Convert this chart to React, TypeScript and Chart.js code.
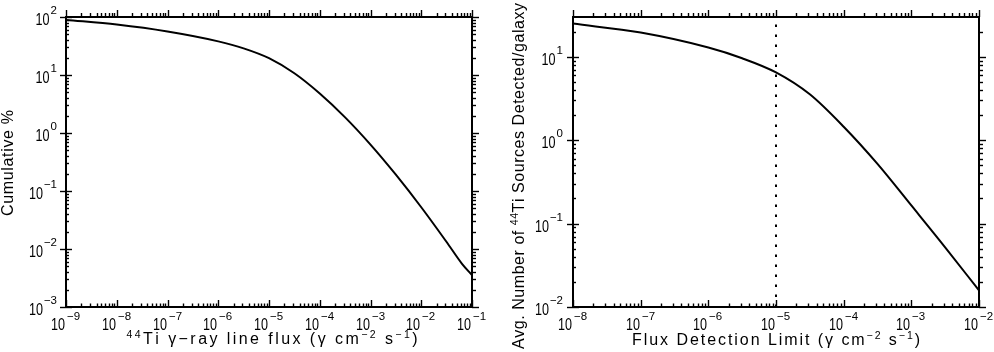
import React, { useEffect, useRef } from 'react';
import { Chart, registerables } from 'chart.js';
Chart.register(...registerables);

// ---------- data ----------
const leftFlux = [1e-9, 1e-8, 1e-7, 1e-6, 3.16e-6, 1e-5, 3.16e-5, 1e-4, 3.16e-4, 1e-3, 3.16e-3, 1e-2, 3.16e-2, 6.3e-2, 1e-1];
const leftCumulative = [89.1, 74.1, 56.2, 38.0, 28.8, 19.5, 10.7, 4.79, 1.86, 0.631, 0.191, 0.0525, 0.0132, 0.00562, 0.00355];
const leftXRange = [1e-9, 1e-1];
const leftYRange = [1e-3, 1e2];

const rightFlux = [1e-8, 1e-7, 1e-6, 3.16e-6, 1e-5, 3.16e-5, 1e-4, 3.16e-4, 1e-3, 3.16e-3, 1e-2];
const rightSources = [25, 19.5, 12.9, 9.6, 6.5, 3.55, 1.45, 0.52, 0.165, 0.052, 0.0158];
const rightXRange = [1e-8, 1e-2];
const rightYRange = [1e-2, 30];
const detectionLimit = [1e-5];

type Part = { t: string; sup?: boolean };
const leftXTitle: Part[] = [
  { t: '44', sup: true }, { t: 'Ti γ−ray line flux (γ cm' }, { t: '−2', sup: true }, { t: ' s' }, { t: '−1', sup: true }, { t: ')' },
];
const leftYTitle: Part[] = [{ t: 'Cumulative %' }];
const rightXTitle: Part[] = [
  { t: 'Flux Detection Limit (γ cm' }, { t: '−2', sup: true }, { t: ' s' }, { t: '−1', sup: true }, { t: ')' },
];
const rightYTitle: Part[] = [
  { t: 'Avg. Number of ' }, { t: '44', sup: true }, { t: 'Ti Sources Detected/galaxy' },
];

const FONT = '"Liberation Sans", Arial, sans-serif';

function measure(ctx: CanvasRenderingContext2D, text: string, size: number, sx: number) {
  ctx.save();
  ctx.font = `${size}px ${FONT}`;
  const w = ctx.measureText(text).width * sx;
  ctx.restore();
  return w;
}

function drawPlain(ctx: CanvasRenderingContext2D, text: string, x: number, y: number, size: number, sx: number, align: 'left' | 'right') {
  ctx.save();
  ctx.font = `${size}px ${FONT}`;
  const w = ctx.measureText(text).width * sx;
  ctx.translate(align === 'right' ? x - w : x, y);
  ctx.scale(sx, 1);
  ctx.textAlign = 'left';
  ctx.textBaseline = 'alphabetic';
  ctx.fillStyle = '#000';
  ctx.fillText(text, 0, 0);
  ctx.restore();
  return w;
}

function drawRich(ctx: CanvasRenderingContext2D, parts: Part[], x: number, y: number,
  o: { size: number; supSize: number; rise: number; sx: number; width: number }) {
  const gl: { ch: string; sup: boolean }[] = [];
  parts.forEach(p => { for (const ch of p.t) gl.push({ ch, sup: !!p.sup }); });
  const ws = gl.map(g => measure(ctx, g.ch, g.sup ? o.supSize : o.size, o.sx));
  const nat = ws.reduce((a, b) => a + b, 0);
  const extra = (o.width - nat) / (gl.length - 1);
  let cx = x - o.width / 2;
  gl.forEach((g, i) => {
    ctx.save();
    ctx.font = `${g.sup ? o.supSize : o.size}px ${FONT}`;
    ctx.translate(cx, g.sup ? y - o.rise : y);
    ctx.scale(o.sx, 1);
    ctx.textAlign = 'left';
    ctx.textBaseline = 'alphabetic';
    ctx.fillStyle = '#000';
    ctx.fillText(g.ch, 0, 0);
    ctx.restore();
    cx += ws[i] + extra;
  });
}

function expStr(e: number) {
  return (e < 0 ? '−' : '') + Math.abs(e);
}

type FrameCfg = {
  xTitle: Part[]; xTitleCenter: number; xTitleWidth: number; xTitleBase: number;
  yTitle: Part[]; yTitleCenter: number; yTitleLen: number; yTitleBase: number;
  yLabelGap: number;
};

function makeFrame(cfg: FrameCfg) {
  return {
    id: 'frame',
    afterDraw(chart: any) {
      const ctx: CanvasRenderingContext2D = chart.ctx;
      const { left, right, top, bottom } = chart.chartArea;
      const xs = chart.scales.x, ys = chart.scales.y;
      ctx.save();
      ctx.strokeStyle = '#000';
      ctx.fillStyle = '#000';
      ctx.lineWidth = 2;
      ctx.strokeRect(left, top, right - left, bottom - top);
      ctx.lineWidth = 1.4;
      const line = (x1: number, y1: number, x2: number, y2: number) => {
        ctx.beginPath(); ctx.moveTo(x1, y1); ctx.lineTo(x2, y2); ctx.stroke();
      };
      // x ticks
      const xe0 = Math.round(Math.log10(xs.min)), xe1 = Math.round(Math.log10(xs.max));
      for (let e = xe0; e <= xe1; e++) {
        const px = Math.round(xs.getPixelForValue(Math.pow(10, e))) + 0.5;
        line(px, bottom, px, bottom - 7);
        line(px, top, px, top - 7);
        drawPlain(ctx, '10', px - 1.5, bottom + 23, 17, 0.74, 'right');
        drawPlain(ctx, expStr(e), px + 0.5, bottom + 13, 11.5, 1, 'left');
        if (e < xe1) {
          for (let m = 2; m <= 9; m++) {
            const qx = Math.round(xs.getPixelForValue(m * Math.pow(10, e))) + 0.5;
            line(qx, bottom, qx, bottom - 3.5);
            line(qx, top, qx, top - 4);
          }
        }
      }
      // y ticks
      const ye0 = Math.floor(Math.log10(ys.min) + 1e-9), ye1 = Math.floor(Math.log10(ys.max) + 1e-9);
      for (let e = ye0; e <= ye1; e++) {
        const py = Math.round(ys.getPixelForValue(Math.pow(10, e))) + 0.5;
        line(left - 6, py, left + 6, py);
        line(right, py, right + 7, py);
        const es = expStr(e);
        const expRight = left - cfg.yLabelGap;
        const ew = measure(ctx, es, 11.5, 1);
        drawPlain(ctx, es, expRight, py - 4, 11.5, 1, 'right');
        drawPlain(ctx, '10', expRight - ew - 1, py + 7, 17, 0.74, 'right');
        for (let m = 2; m <= 9; m++) {
          const v = m * Math.pow(10, e);
          if (v >= ys.max) break;
          const qy = Math.round(ys.getPixelForValue(v)) + 0.5;
          line(left, qy, left + 3, qy);
          line(right, qy, right + 4, qy);
        }
      }
      // titles
      drawRich(ctx, cfg.xTitle, cfg.xTitleCenter, cfg.xTitleBase, { size: 16, supSize: 10.5, rise: 6.5, sx: 1, width: cfg.xTitleWidth });
      ctx.save();
      ctx.translate(cfg.yTitleBase, cfg.yTitleCenter);
      ctx.rotate(-Math.PI / 2);
      drawRich(ctx, cfg.yTitle, 0, 0, { size: 16, supSize: 10.5, rise: 6.5, sx: 1, width: cfg.yTitleLen });
      ctx.restore();
      ctx.restore();
    },
  };
}

function Panel(props: {
  xs: number[]; ys: number[]; xRange: number[]; yRange: number[]; vline?: number[];
  leftW: number; padRight: number; frame: FrameCfg; style: React.CSSProperties;
}) {
  const ref = useRef<HTMLCanvasElement>(null);
  useEffect(() => {
    const datasets: any[] = [{
      data: props.xs.map((x, i) => ({ x, y: props.ys[i] })),
      borderColor: '#000', borderWidth: 2, pointRadius: 0, cubicInterpolationMode: 'monotone', fill: false,
    }];
    if (props.vline) {
      props.vline.forEach(v => datasets.push({
        data: [{ x: v, y: props.yRange[0] }, { x: v, y: props.yRange[1] }],
        borderColor: '#000', borderWidth: 2, borderDash: [2.5, 7.5], pointRadius: 0, fill: false,
      }));
    }
    const chart = new Chart(ref.current!, {
      type: 'line',
      data: { datasets },
      options: {
        animation: false,
        responsive: false,
        devicePixelRatio: 1,
        layout: { padding: { top: 17, right: props.padRight, left: 0, bottom: 0 } },
        plugins: { legend: { display: false }, tooltip: { enabled: false } },
        scales: {
          x: {
            type: 'logarithmic', min: props.xRange[0], max: props.xRange[1],
            ticks: { display: false }, grid: { display: false }, border: { display: false },
            afterFit: (s: any) => { s.height = 45; },
          },
          y: {
            type: 'logarithmic', min: props.yRange[0], max: props.yRange[1],
            ticks: { display: false }, grid: { display: false }, border: { display: false },
            afterFit: (s: any) => { s.width = props.leftW; },
          },
        },
      } as any,
      plugins: [makeFrame(props.frame)],
    });
    return () => chart.destroy();
  }, []);
  return <canvas ref={ref} width={497} height={352} style={props.style} />;
}

export default function App() {
  return (
    <div style={{ position: 'absolute', left: 0, top: 0, width: 994, height: 352, background: '#fff' }}>
      <Panel
        xs={leftFlux} ys={leftCumulative} xRange={leftXRange} yRange={leftYRange}
        leftW={66} padRight={25}
        frame={{
          xTitle: leftXTitle, xTitleCenter: 272, xTitleWidth: 291, xTitleBase: 344,
          yTitle: leftYTitle, yTitleCenter: 163, yTitleLen: 106, yTitleBase: 13,
          yLabelGap: 9,
        }}
        style={{ position: 'absolute', left: 0, top: 0 }}
      />
      <Panel
        xs={rightFlux} ys={rightSources} xRange={rightXRange} yRange={rightYRange} vline={detectionLimit}
        leftW={76} padRight={15}
        frame={{
          xTitle: rightXTitle, xTitleCenter: 279, xTitleWidth: 288, xTitleBase: 345,
          yTitle: rightYTitle, yTitleCenter: 176, yTitleLen: 346, yTitleBase: 27,
          yLabelGap: 10,
        }}
        style={{ position: 'absolute', left: 497, top: 0 }}
      />
    </div>
  );
}
